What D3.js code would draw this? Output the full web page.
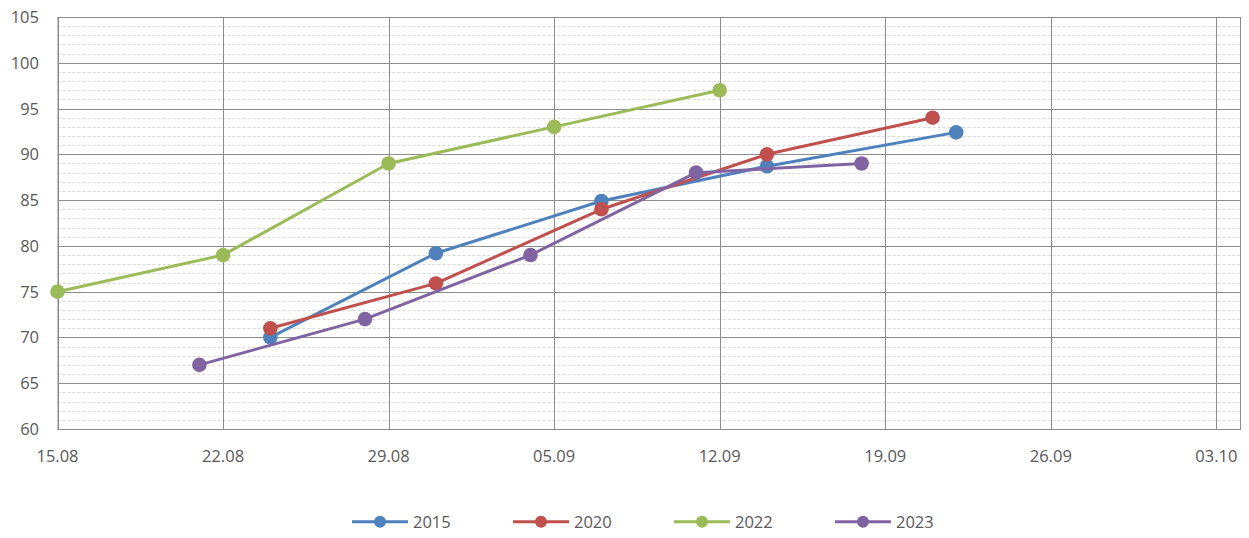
<!DOCTYPE html>
<html>
<head>
<meta charset="utf-8">
<script src="https://cdn.jsdelivr.net/npm/d3@7"></script>
<style>
  body { margin: 0; background: #fff; }
  svg text { font-family: "Open Sans", "Liberation Sans", sans-serif; fill: #595959; }
</style>
</head>
<body>
<svg id="chart" width="1249" height="538"></svg>
<script>
// data (day.month dates, year 2000 as a dummy)
const seriesNames = ["2015", "2020", "2022", "2023"];
const colors = ["#4F81BD", "#C0504D", "#9BBB59", "#8064A2"];

const dates2015 = ["24.08", "31.08", "07.09", "14.09", "22.09"];
const values2015 = [70, 79.2, 84.9, 88.7, 92.4];

const dates2020 = ["24.08", "31.08", "07.09", "14.09", "21.09"];
const values2020 = [71, 75.9, 84, 90, 94];

const dates2022 = ["15.08", "22.08", "29.08", "05.09", "12.09"];
const values2022 = [75, 79, 89, 93, 97];

const dates2023 = ["21.08", "28.08", "04.09", "11.09", "18.09"];
const values2023 = [67, 72, 79, 88, 89];

const xTickLabels = ["15.08", "22.08", "29.08", "05.09", "12.09", "19.09", "26.09", "03.10"];
const yTicks = [60, 65, 70, 75, 80, 85, 90, 95, 100, 105];

const parse = d3.timeParse("%d.%m.%Y");
const toDate = s => parse(s + ".2000");

const allDates = [dates2015, dates2020, dates2022, dates2023];
const allValues = [values2015, values2020, values2022, values2023];
const series = seriesNames.map((name, i) => ({
    name: name,
    color: colors[i],
    points: allDates[i].map((d, j) => ({ date: toDate(d), value: allValues[i][j] }))
}));

let svg = d3.select('#chart'),
    margin = { left: 57.5, right: 9, top: 17, bottom: 109 },
    width = +svg.attr("width"),
    height = +svg.attr("height");

const x = d3.scaleTime()
    .domain([toDate("15.08"), toDate("04.10")])
    .range([margin.left, width - margin.right]);

const y = d3.scaleLinear()
    .domain([60, 105])
    .range([height - margin.bottom, margin.top]);

// minor horizontal grid (dashed)
svg.append("g")
    .selectAll("line")
    .data(d3.range(60, 106, 1).filter(v => v % 5 !== 0))
    .join("line")
    .attr("x1", x.range()[0]).attr("x2", x.range()[1])
    .attr("y1", d => Math.round(y(d)) + 0.5).attr("y2", d => Math.round(y(d)) + 0.5)
    .attr("stroke", "#d9d9d9")
    .attr("stroke-dasharray", "3,2");

// major horizontal grid
svg.append("g")
    .selectAll("line")
    .data(yTicks)
    .join("line")
    .attr("x1", x.range()[0]).attr("x2", x.range()[1])
    .attr("y1", d => Math.round(y(d)) + 0.5).attr("y2", d => Math.round(y(d)) + 0.5)
    .attr("stroke", "#8c8c8c");

// vertical grid
svg.append("g")
    .selectAll("line")
    .data(xTickLabels.map(toDate))
    .join("line")
    .attr("x1", d => Math.round(x(d)) + 0.5).attr("x2", d => Math.round(x(d)) + 0.5)
    .attr("y1", y(60)).attr("y2", y(105))
    .attr("stroke", "#8c8c8c");

// plot border
svg.append("rect")
    .attr("x", x.range()[0] + 0.5)
    .attr("y", Math.round(y(105)) + 0.5)
    .attr("width", x.range()[1] - x.range()[0])
    .attr("height", Math.round(y(60)) - Math.round(y(105)))
    .attr("fill", "none")
    .attr("stroke", "#8c8c8c");

// y labels
svg.append("g")
    .selectAll("text")
    .data(yTicks)
    .join("text")
    .attr("x", 39)
    .attr("y", d => y(d) + 6)
    .attr("text-anchor", "end")
    .attr("font-size", 16.5)
    .text(d => d);

// x labels
svg.append("g")
    .selectAll("text")
    .data(xTickLabels)
    .join("text")
    .attr("x", d => x(toDate(d)))
    .attr("y", 462)
    .attr("text-anchor", "middle")
    .attr("font-size", 16.5)
    .text(d => d);

const line = d3.line()
    .x(d => x(d.date))
    .y(d => y(d.value));

let g = svg.append("g")
    .selectAll("g")
    .data(series)
    .join("g");

g.append("path")
    .attr("d", d => line(d.points))
    .attr("fill", "none")
    .attr("stroke", d => d.color)
    .attr("stroke-width", 3)
    .attr("stroke-linejoin", "round");

g.selectAll("circle")
    .data(d => d.points.map(p => Object.assign({ color: d.color }, p)))
    .join("circle")
    .attr("cx", d => x(d.date))
    .attr("cy", d => y(d.value))
    .attr("r", 7.3)
    .attr("fill", d => d.color);

// legend
let legend = svg.append("g")
    .selectAll("g")
    .data(series)
    .join("g")
    .attr("transform", (d, i) => "translate(" + (352 + i * 161) + ", 521.7)");

legend.append("line")
    .attr("x1", 0).attr("x2", 56)
    .attr("stroke", d => d.color)
    .attr("stroke-width", 3);

legend.append("circle")
    .attr("cx", 28).attr("r", 6)
    .attr("fill", d => d.color);

legend.append("text")
    .attr("x", 61).attr("y", 6.6)
    .attr("font-size", 16.5)
    .text(d => d.name);
</script>
</body>
</html>
